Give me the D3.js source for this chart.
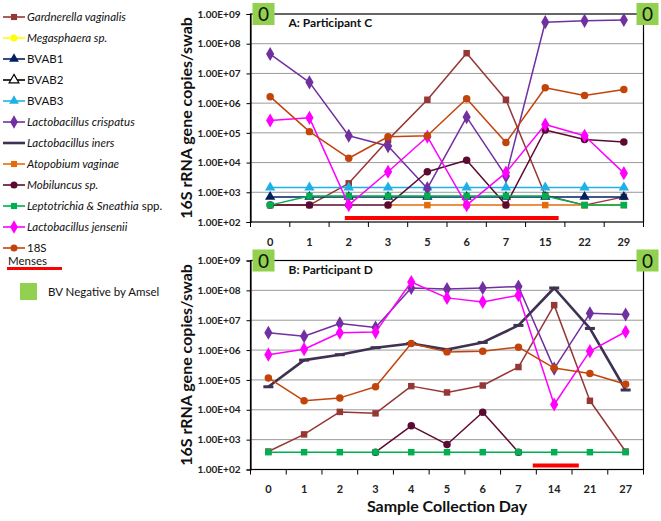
<!DOCTYPE html>
<html><head><meta charset="utf-8">
<script src="https://cdn.jsdelivr.net/npm/d3@7"></script>
<style>body{margin:0;background:#fff}svg{font-family:Lato,"Open Sans",sans-serif}</style>
</head><body><svg id="c" width="661" height="521"></svg>
<script>
// ---------- DATA ----------
const daysA = ["0","1","2","3","5","6","7","15","22","29"];
const daysB = ["0","1","2","3","4","5","6","7","14","21","27"];
const yTickValues = [1e2,1e3,1e4,1e5,1e6,1e7,1e8,1e9];
const yTickLabels = ["1.00E+02","1.00E+03","1.00E+04","1.00E+05","1.00E+06","1.00E+07","1.00E+08","1.00E+09"];
const seriesNames = ["Gardnerella vaginalis","Megasphaera sp.","BVAB1","BVAB2","BVAB3","Lactobacillus crispatus","Lactobacillus iners","Atopobium vaginae","Mobiluncus sp.","Leptotrichia & Sneathia spp.","Lactobacillus jensenii","18S"];

// Participant C (null = not visible in the chart)
const gardA   = [370,370,2000,58000,1300000,48000000,1300000,800,370,700];
const megaA   = [null,null,null,null,null,null,null,null,null,null];
const bvab1A  = [700,700,700,700,700,700,700,700,700,700];
const bvab2A  = [null,null,null,null,null,null,null,null,null,null];
const bvab3A  = [1450,1450,1450,1450,1450,1450,1450,1450,1450,1450];
const crispA  = [45000000,5000000,80000,36000,1350,340000,3500,530000000,590000000,630000000];
const inersA  = [null,null,null,null,null,null,null,null,null,null];
const atopA   = [null,null,null,370,370,370,370,370,370,370];
const mobiA   = [370,370,370,370,4900,12000,370,125000,60000,49000];
const leptoA  = [370,750,750,750,750,750,750,750,370,370];
const jensA   = [260000,320000,370,4900,74000,370,4600,190000,80000,4400];
const s18A    = [1650000,110000,14000,74000,80000,1400000,47000,3300000,1800000,2900000];

// Participant D
const gardB   = [400,1500,8500,7600,62000,38000,65000,270000,32000000,20000,400];
const megaB   = [null,null,null,null,null,null,null,null,null,null,null];
const bvab1B  = [null,null,null,null,null,null,null,null,null,null,null];
const bvab2B  = [null,null,null,null,null,null,null,null,null,null,null];
const bvab3B  = [null,null,null,null,null,null,null,null,null,null,null];
const crispB  = [3800000,2900000,7800000,5700000,120000000,110000000,120000000,135000000,240000,17000000,15500000];
const inersB  = [59000,460000,700000,1200000,1650000,1050000,1800000,6700000,120000000,5300000,46000];
const atopB   = [null,null,null,null,null,null,null,null,null,null,null];
const mobiB   = [null,null,null,380,2900,690,8300,380,null,null,null];
const leptoB  = [380,380,380,380,380,380,380,380,380,380,380];
const jensB   = [700000,1070000,3800000,4000000,190000000,56000000,41000000,69000000,15000,920000,4100000];
const s18B    = [117000,20000,25000,59000,1650000,870000,920000,1250000,250000,165000,72000];

// Menses periods, in category-index units
const mensesA = [1.9, 7.34];
const mensesB = [7.4, 8.69];

// ---------- STYLES ----------
const styles = [
  {color:"#953735", marker:"square"},
  {color:"#FFFF00", marker:"circle"},
  {color:"#002060", marker:"triangle"},
  {color:"#000000", marker:"triangleOpen"},
  {color:"#1FB1E6", marker:"triangle"},
  {color:"#7030A0", marker:"diamond"},
  {color:"#3F3151", marker:"dash", width:2.6},
  {color:"#E46C0A", marker:"square"},
  {color:"#5C0A32", marker:"circle"},
  {color:"#00B050", marker:"square"},
  {color:"#FF00FF", marker:"diamond"},
  {color:"#C3440B", marker:"circle"}
];

const svg = d3.select("#c");

function drawMarker(g, type, color, cx, cy, legend) {
  const s = legend ? 0.9 : 1;
  if (type === "dash") {
    g.append("rect").attr("x", cx-5).attr("y", cy-1.5).attr("width",10).attr("height",3).attr("fill",color);
    return;
  }
  let sym, size;
  if (type==="square") {sym=d3.symbolSquare; size=42;}
  else if (type==="circle") {sym=d3.symbolCircle; size=44;}
  else if (type==="triangle"||type==="triangleOpen") {sym=d3.symbolTriangle; size=46;}
  else if (type==="diamond") {sym=d3.symbolDiamond; size=58;}
  const p = g.append("path").attr("d", d3.symbol().type(sym).size(size*s)())
    .attr("transform",`translate(${cx},${cy})`);
  if (type==="triangleOpen") p.attr("fill","#fff").attr("stroke",color).attr("stroke-width",1.2);
  else p.attr("fill",color);
}

function panel(opts) {
  const {days, series, top, bottom, title, menses} = opts;
  const left = 250.5, right = 643.5;
  const x = d3.scaleBand().domain(days).range([left, right]);
  const bw = x.bandwidth();
  const cx = d => x(d) + bw/2;
  const idx = d3.scaleLinear().domain([0, days.length-1]).range([cx(days[0]), cx(days[days.length-1])]);
  const y = d3.scaleLog().domain([1e2,1e9]).range([bottom, top]);
  const g = svg.append("g");

  g.selectAll("line.grid").data(yTickValues.slice(1,-1)).enter().append("line")
    .attr("x1",left).attr("x2",right).attr("y1",d=>y(d)).attr("y2",d=>y(d))
    .attr("stroke","#9a9a9a").attr("stroke-width",1);

  g.append("rect").attr("x",left).attr("y",y(1e9)).attr("width",right-left).attr("height",y(1e2)-y(1e9))
    .attr("fill","none").attr("stroke","#000").attr("stroke-width",1.2);

  const ya = g.append("g").attr("transform",`translate(${left},0)`)
    .call(d3.axisLeft(y).tickValues(yTickValues).tickFormat((d,i)=>yTickLabels[i]).tickSize(4).tickPadding(6));
  ya.select(".domain").attr("stroke","#000").attr("stroke-width",1.2);
  ya.selectAll("line").attr("stroke","#000");
  ya.selectAll("text").attr("font-size",10).attr("font-weight","bold").attr("fill","#222").attr("font-family","Lato,sans-serif");

  const xa = g.append("g").attr("transform",`translate(0,${bottom})`)
    .call(d3.axisBottom(x).tickSize(0).tickPadding(16));
  xa.select(".domain").remove();
  xa.selectAll("text").attr("font-size",11).attr("font-weight","bold").attr("fill","#222").attr("font-family","Lato,sans-serif");
  const tickPos = days.map(d=>x(d)).concat([right]);
  g.selectAll("line.xt").data(tickPos).enter().append("line")
    .attr("x1",d=>d).attr("x2",d=>d).attr("y1",bottom).attr("y2",bottom+5).attr("stroke","#000");

  g.append("rect").attr("x",idx(menses[0])).attr("width",idx(menses[1])-idx(menses[0]))
    .attr("y",bottom-6).attr("height",4).attr("fill","#FF0000");

  series.forEach((vals,i)=>{
    const st = styles[i];
    const sg = g.append("g");
    const line = d3.line().defined(d=>d!=null).x((d,j)=>cx(days[j])).y(d=>y(d));
    sg.append("path").datum(vals).attr("d",line).attr("fill","none")
      .attr("stroke",st.color).attr("stroke-width",st.width||1.5).attr("stroke-linejoin","round");
    vals.forEach((v,j)=>{ if (v!=null) drawMarker(sg, st.marker, st.color, cx(days[j]), y(v)); });
  });

  g.append("text").attr("x",left+38).attr("y",top+13).attr("font-size",12).attr("font-weight","bold")
    .attr("fill","#111").text(title);

  [[left+2, top-11],[right-7, top-11]].forEach(([bx,by])=>{
    g.append("rect").attr("x",bx).attr("y",by).attr("width",22).attr("height",22).attr("fill","#92D050");
    g.append("text").attr("x",bx+11).attr("y",by+18).attr("text-anchor","middle").attr("font-size",19)
      .attr("fill","#111").text("0");
  });

  svg.append("text").attr("transform",`translate(192,${(top+bottom)/2}) rotate(-90)`)
    .attr("text-anchor","middle").attr("font-size",16).attr("font-weight","bold").attr("fill","#111")
    .text("16S rRNA gene copies/swab");
}

panel({days:daysA, series:[gardA,megaA,bvab1A,bvab2A,bvab3A,crispA,inersA,atopA,mobiA,leptoA,jensA,s18A],
  top:14, bottom:222, title:"A: Participant C", menses:mensesA});
panel({days:daysB, series:[gardB,megaB,bvab1B,bvab2B,bvab3B,crispB,inersB,atopB,mobiB,leptoB,jensB,s18B],
  top:260.5, bottom:469.5, title:"B: Participant D", menses:mensesB});

svg.append("text").attr("x",447).attr("y",512).attr("text-anchor","middle").attr("font-size",16)
  .attr("font-weight","bold").attr("fill","#111").text("Sample Collection Day");

// ---------- LEGEND ----------
const lg = svg.append("g");
seriesNames.forEach((name,i)=>{
  const yy = 17 + i*21;
  const st = styles[i];
  lg.append("line").attr("x1",3).attr("x2",25).attr("y1",yy).attr("y2",yy)
    .attr("stroke",st.color).attr("stroke-width",st.width||1.6);
  if (st.marker !== "dash") drawMarker(lg, st.marker, st.color, 14, yy, true);
  const italic = !/^(BVAB|18S)/.test(name);
  const t = lg.append("text").attr("x",27).attr("y",yy+4).attr("font-size",11.5).attr("fill","#111");
  if (name.endsWith(" spp.")) {
    t.append("tspan").attr("font-style","italic").text(name.replace(" spp.",""));
    t.append("tspan").text(" spp.");
  } else {
    t.attr("font-style", italic ? "italic" : "normal").text(name);
  }
});
lg.append("text").attr("x",8).attr("y",265).attr("font-size",11.5).attr("fill","#111").text("Menses");
lg.append("rect").attr("x",7).attr("y",267).attr("width",55).attr("height",3).attr("fill","#FF0000");
lg.append("rect").attr("x",20).attr("y",283).attr("width",17).attr("height",17).attr("fill","#92D050");
lg.append("text").attr("x",48).attr("y",296).attr("font-size",11.5).attr("fill","#111").text("BV Negative by Amsel");
</script></body></html>
